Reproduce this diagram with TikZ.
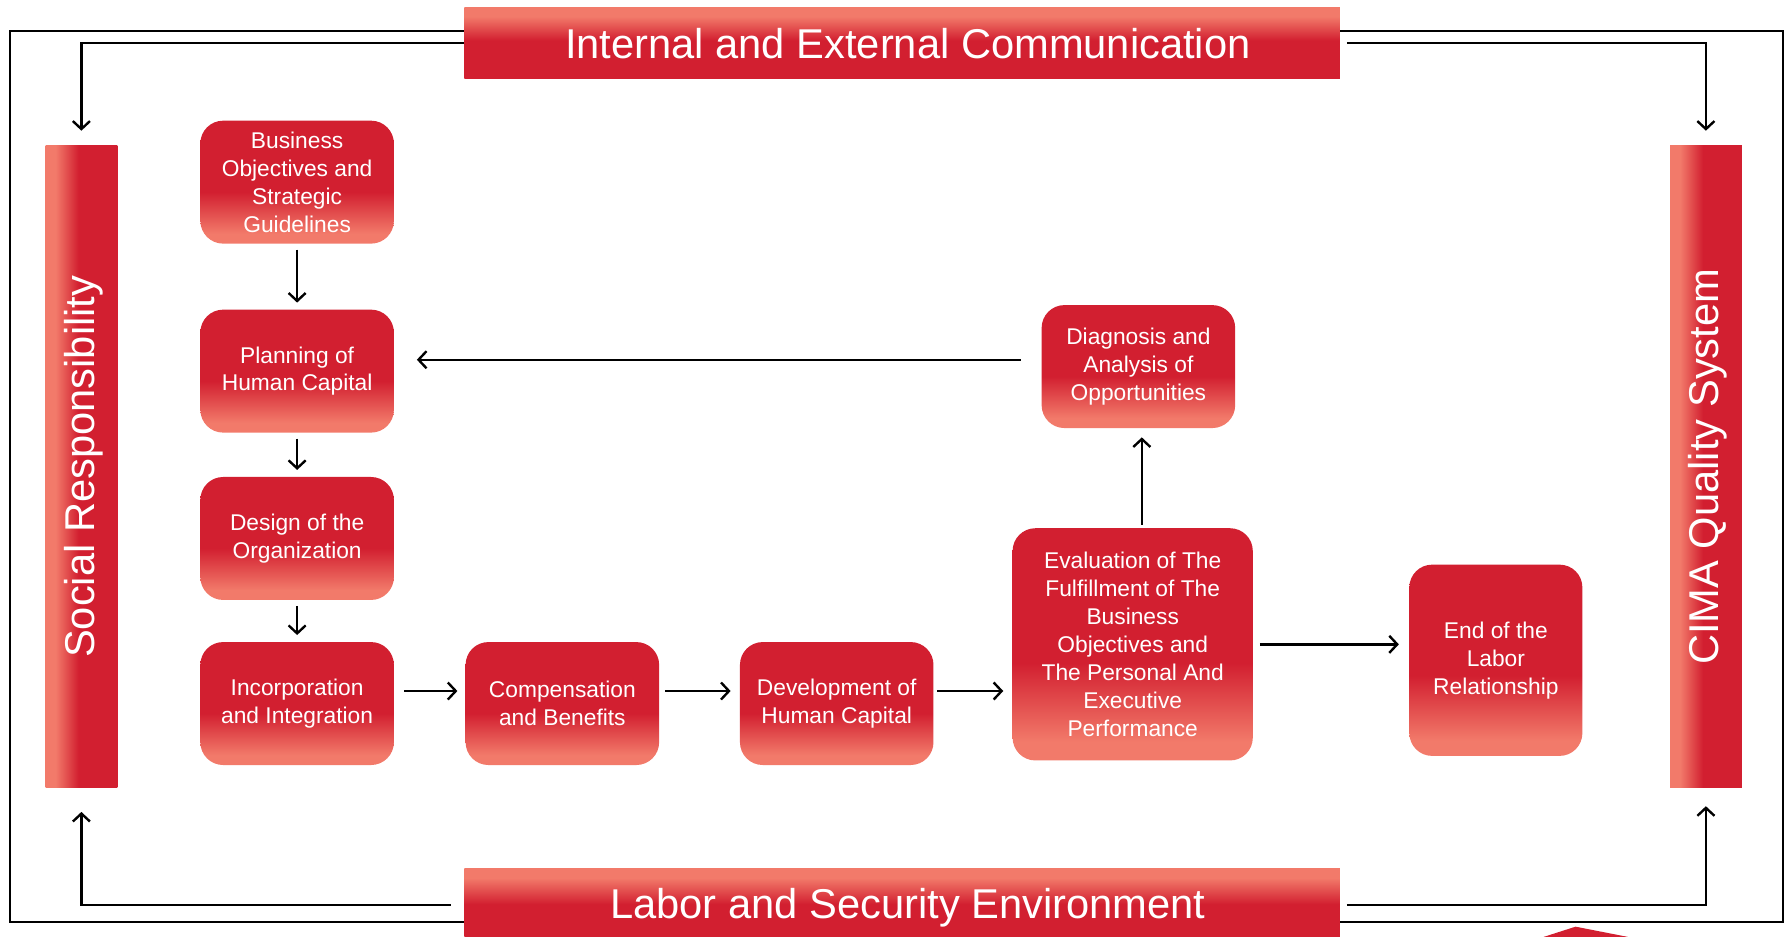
\documentclass[tikz,border=0pt]{standalone}
\usepackage{fontspec}
\setmainfont{Liberation Sans}
\usepackage{tikz}
\usetikzlibrary{positioning}
\usetikzlibrary{calc}
\usetikzlibrary{arrows.meta}

\definecolor{cimared}{RGB}{210,31,48}
\definecolor{cimalight}{RGB}{242,122,106}

\pgfdeclareverticalshading{boxshade}{100bp}{color(0bp)=(cimalight); color(29bp)=(cimalight); color(46bp)=(cimared); color(100bp)=(cimared)}
\pgfdeclareverticalshading{barshade}{100bp}{color(0bp)=(cimared); color(52bp)=(cimared); color(69bp)=(cimalight); color(100bp)=(cimalight)}
\pgfdeclarehorizontalshading{sideshade}{100bp}{color(0bp)=(cimalight); color(32bp)=(cimalight); color(48bp)=(cimared); color(100bp)=(cimared)}

\begin{document}
\begin{tikzpicture}[
    x=1pt, y=-1pt,              % one unit per pixel, counted from the top
    node distance=10pt and 10pt,
    ]
% ------------------------------------------------- 
\tikzset{
  base/.style={on grid, align=center, text=white, inner sep=0pt},
  proc/.style={base, rectangle, rounded corners=20pt, shading=boxshade, minimum width=170pt, minimum height=108pt, font=\fontsize{20}{24.5}\selectfont},
  procbig/.style={proc, minimum width=211pt, minimum height=204pt},
  procend/.style={proc, minimum width=152pt, minimum height=168pt},
  banner/.style={base, rectangle, shading=barshade, minimum width=769pt, minimum height=62pt, font=\fontsize{36.6}{40}\selectfont},
  sidebar/.style={base, rectangle, shading=sideshade, minimum width=63pt, minimum height=564pt, font=\fontsize{36.6}{40}\selectfont},
  line/.style={draw, line width=2.1pt, -{Straight Barb[length=7pt,width=15pt]}, shorten <=5pt, shorten >=6pt},
  cycleline/.style={line, shorten <=0pt, shorten >=13pt}
}

\useasboundingbox (0,0) rectangle (1568,823);

% outer frame
\draw [line width=2pt] (9,27) rectangle (1566,810);

\node [banner] (comm) at (792.5,38) {\hspace*{10pt}\raisebox{-2pt}{Internal and External Communication}};
\node [banner, below=759pt of comm, minimum height=68pt] (labor) {\hspace*{10pt}Labor and Security Environment};
\node [sidebar] (social) at (71.5,410) {\rotatebox{90}{\raisebox{-2pt}[\height][\depth]{Social Responsibility}}};
\node [sidebar, right=1427pt of social] (cima) {\rotatebox{90}{\raisebox{-2pt}[\height][\depth]{CIMA Quality System}}};

\node [proc] (goals) at (261,160) {Business\\Objectives and\\Strategic\\Guidelines};
\node [proc, below=166pt of goals] (plan) {Planning of\\Human Capital};
\node [proc, below=147pt of plan] (design) {Design of the\\Organization};
\node [proc, below=145pt of design] (incorp) {Incorporation\\and Integration};
\node [proc, right=233pt of incorp] (comp) {Compensation\\and Benefits};
\node [proc, right=241pt of comp] (devel) {Development of\\Human Capital};
\node [procbig, right=260pt of devel, yshift=52pt] (eval) {Evaluation of The\\Fulfillment of The\\Business\\Objectives and\\The Personal And\\Executive\\Performance};
\node [proc, above=244pt of eval, xshift=5pt] (diag) {Diagnosis and\\Analysis of\\Opportunities};
\node [procend, right=319pt of eval, yshift=-14pt] (exit) {End of the\\Labor\\Relationship};

% piece of a logo cut by the lower edge
\fill [cimared] (1356,823) -- (1384,814) -- (1430,823) -- cycle;

\path [line] (goals) -- (plan);
\path [line] (plan) -- (design);
\path [line] (design) -- (incorp);
\path [line, shorten <=9pt, shorten >=7pt] ([yshift=11pt]incorp.east) -- ([yshift=11pt]comp.west);
\path [line, shorten <=5pt, shorten >=8pt] ([yshift=11pt]comp.east) -- ([yshift=11pt]devel.west);
\path [line, shorten <=3pt, shorten >=8pt] ([yshift=11pt]devel.east) -- ([yshift=11pt]devel.east -| eval.west);
\path [line, shorten <=6pt, shorten >=9pt] (eval.east) -- (eval.east -| exit.west);
\path [line, shorten <=3pt, shorten >=8pt] ([xshift=8pt]eval.north) -- ([xshift=8pt]eval.north |- diag.south);
\path [line, shorten <=18pt, shorten >=20pt] ([yshift=6pt]diag.west) -- ([yshift=6pt]diag.west -| plan.east);

\path [cycleline] (comm.west) -| (social.north);
\path [cycleline, shorten <=6pt] (comm.east) -| (cima.north);
\path [cycleline, shorten <=12pt, shorten >=21pt] ([yshift=2pt]labor.west) -| (social.south);
\path [cycleline, shorten <=6pt, shorten >=16pt] ([yshift=2pt]labor.east) -| (cima.south);

\end{tikzpicture}
\end{document}
